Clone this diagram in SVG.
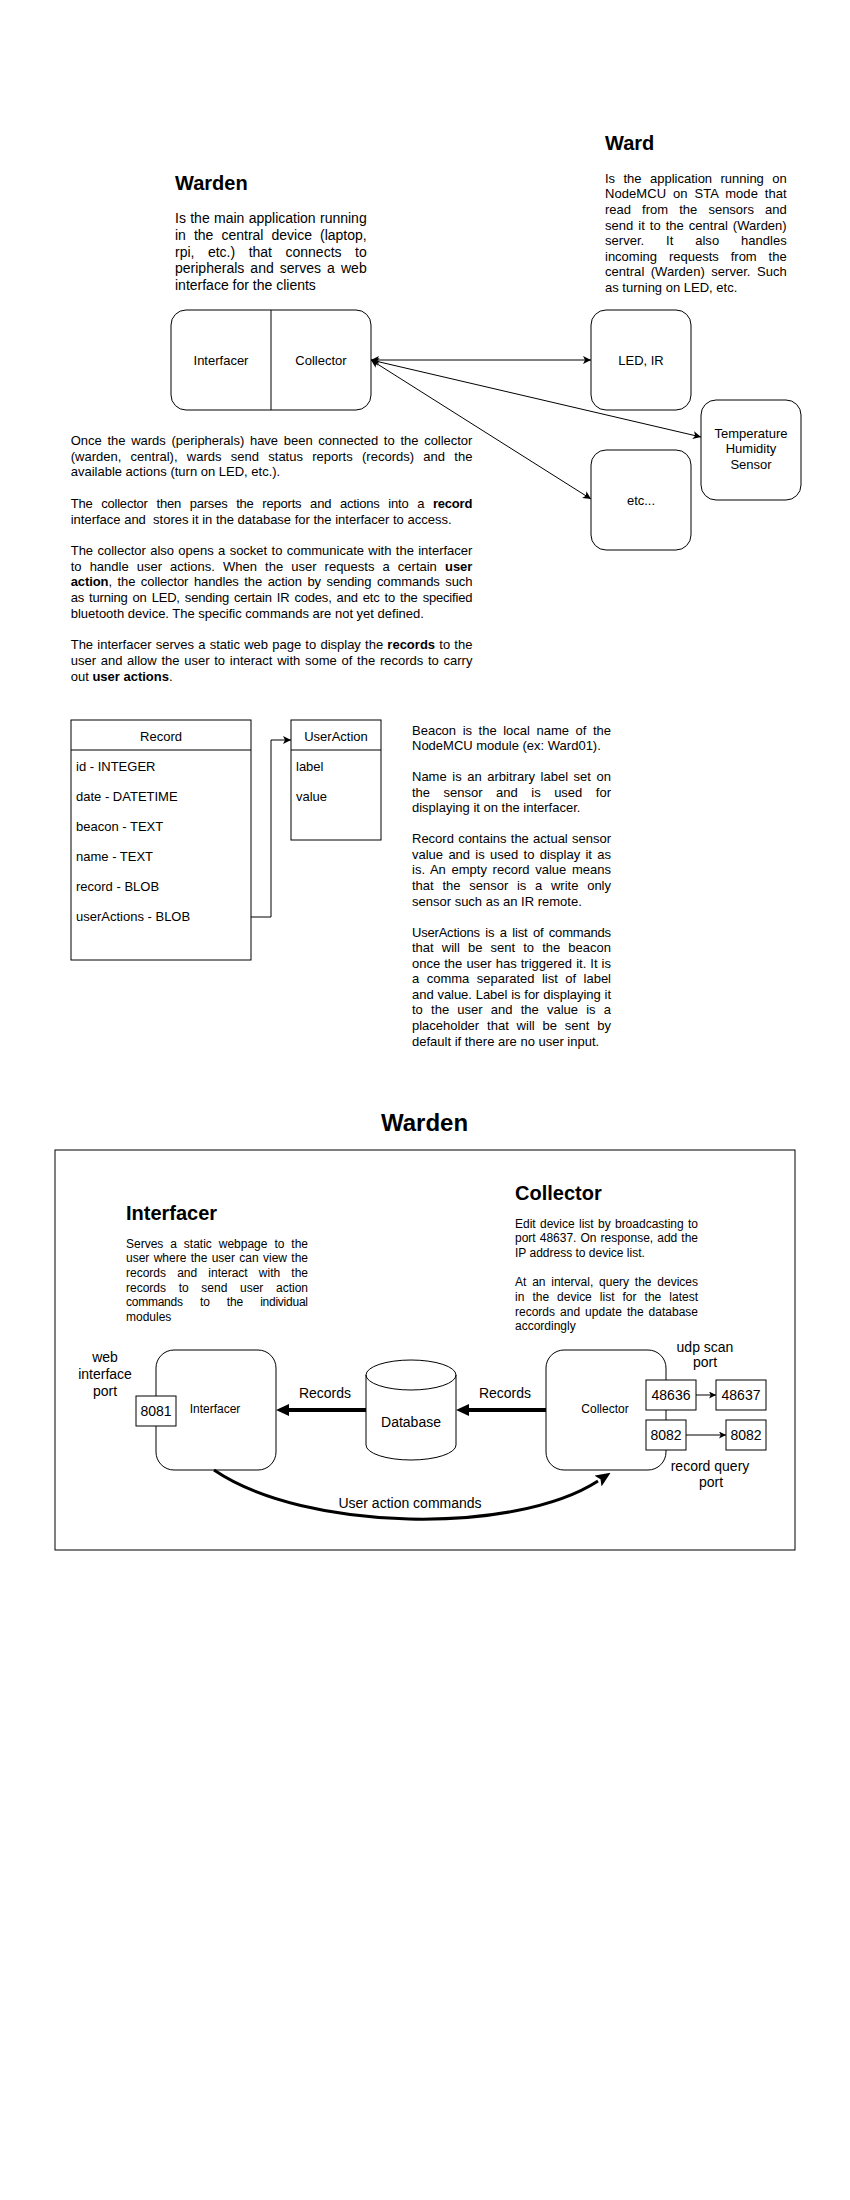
<svg xmlns="http://www.w3.org/2000/svg" width="850" height="2200" viewBox="0 0 850 2200">
<style>
text{font-family:"Liberation Sans",Arial,sans-serif;fill:#000}
.h{font-weight:bold;font-size:20px}
.t14{font-size:14px}
.t13{font-size:13px}
.t12{font-size:12px}
.c{text-anchor:middle}
.b{font-weight:bold}
.box{fill:#fff;stroke:#000;stroke-width:1}
.ln{fill:none;stroke:#000;stroke-width:1}
.thick{fill:none;stroke:#000;stroke-width:4}
</style>
<defs>
<marker id="arr" viewBox="0 0 10 10" refX="10" refY="5" markerWidth="8" markerHeight="8" markerUnits="userSpaceOnUse" orient="auto-start-reverse">
<path d="M0,0 L10,5 L0,10 L2.5,5 Z" fill="#000"/>
</marker>
<marker id="arrs" viewBox="0 0 10 10" refX="10" refY="5" markerWidth="7" markerHeight="7" markerUnits="userSpaceOnUse" orient="auto">
<path d="M0,0 L10,5 L0,10 L2.5,5 Z" fill="#000"/>
</marker>
<marker id="blk" viewBox="0 0 13 12" refX="0" refY="6" markerWidth="13" markerHeight="12" markerUnits="userSpaceOnUse" orient="auto">
<path d="M0,0 L13,6 L0,12 Z" fill="#000"/>
</marker>
<marker id="blk2" viewBox="0 0 15 13" refX="0" refY="6.5" markerWidth="15" markerHeight="13" markerUnits="userSpaceOnUse" orient="auto">
<path d="M0,0 L15,6.5 L0,13 L3,6.5 Z" fill="#000"/>
</marker>
</defs>
<rect width="850" height="2200" fill="#fff"/>

<!-- Top texts -->
<g id="warden-desc">
<text class="h" x="175" y="190">Warden</text>
<text class="t14" x="175" y="223" style="word-spacing:0.45px" textLength="191.7" lengthAdjust="spacing">Is the main application running</text>
<text class="t14" x="175" y="239.8" style="word-spacing:4.15px" textLength="191.7" lengthAdjust="spacing">in the central device (laptop,</text>
<text class="t14" x="175" y="256.6" style="word-spacing:9.6px" textLength="191.7" lengthAdjust="spacing">rpi, etc.) that connects to</text>
<text class="t14" x="175" y="273.4" style="word-spacing:2.2px" textLength="191.7" lengthAdjust="spacing">peripherals and serves a web</text>
<text class="t14" x="175" y="290.2">interface for the clients</text>
</g>
<g id="ward-desc">
<text class="h" x="605" y="150">Ward</text>
<text class="t13" x="605" y="182.8" style="word-spacing:4.78px" textLength="181.7" lengthAdjust="spacing">Is the application running on</text>
<text class="t13" x="605" y="198.4" style="word-spacing:3.15px" textLength="181.7" lengthAdjust="spacing">NodeMCU on STA mode that</text>
<text class="t13" x="605" y="214" style="word-spacing:7.5px" textLength="181.7" lengthAdjust="spacing">read from the sensors and</text>
<text class="t13" x="605" y="229.6" style="word-spacing:1.37px" textLength="181.7" lengthAdjust="spacing">send it to the central (Warden)</text>
<text class="t13" x="605" y="245.2" style="word-spacing:18.2px" textLength="181.7" lengthAdjust="spacing">server. It also handles</text>
<text class="t13" x="605" y="260.8" style="word-spacing:8.3px" textLength="181.7" lengthAdjust="spacing">incoming requests from the</text>
<text class="t13" x="605" y="276.4" style="word-spacing:2.77px" textLength="181.7" lengthAdjust="spacing">central (Warden) server. Such</text>
<text class="t13" x="605" y="292">as turning on LED, etc.</text>
</g>

<!-- Top nodes -->
<g id="warden-node">
<rect class="box" x="171" y="310" width="200" height="100" rx="15" ry="15"/>
<line class="ln" x1="271" y1="310" x2="271" y2="410"/>
<text class="t13 c" x="221" y="364.5">Interfacer</text>
<text class="t13 c" x="321" y="364.5">Collector</text>
</g>
<g id="led-ir">
<rect class="box" x="591" y="310" width="100" height="100" rx="15" ry="15"/>
<text class="t13 c" x="641" y="364.5">LED, IR</text>
</g>
<g id="temp-sensor">
<rect class="box" x="701" y="400" width="100" height="100" rx="15" ry="15"/>
<text class="t13 c" x="751" y="437.8">Temperature</text>
<text class="t13 c" x="751" y="453.4">Humidity</text>
<text class="t13 c" x="751" y="469">Sensor</text>
</g>
<g id="etc">
<rect class="box" x="591" y="450" width="100" height="100" rx="15" ry="15"/>
<text class="t13 c" x="641" y="504.5">etc...</text>
</g>

<!-- Explanation paragraph -->
<g id="explanation">
<text class="t13" x="70.7" y="445" style="word-spacing:2.14px" textLength="401.7" lengthAdjust="spacing">Once the wards (peripherals) have been connected to the collector</text>
<text class="t13" x="70.7" y="460.7" style="word-spacing:5.69px" textLength="401.7" lengthAdjust="spacing">(warden, central), wards send status reports (records) and the</text>
<text class="t13" x="70.7" y="476.4">available actions (turn on LED, etc.).</text>
<text class="t13" x="70.7" y="507.8" style="word-spacing:5.34px" textLength="401.7" lengthAdjust="spacing">The collector then parses the reports and actions into a <tspan class="b">record</tspan></text>
<text class="t13" x="70.7" y="523.5" xml:space="preserve">interface and  stores it in the database for the interfacer to access.</text>
<text class="t13" x="70.7" y="554.9" style="word-spacing:0.72px" textLength="401.7" lengthAdjust="spacing">The collector also opens a socket to communicate with the interfacer</text>
<text class="t13" x="70.7" y="570.6" style="word-spacing:4.47px" textLength="401.7" lengthAdjust="spacing">to handle user actions. When the user requests a certain <tspan class="b">user</tspan></text>
<text class="t13" x="70.7" y="586.3" style="word-spacing:2.08px" textLength="401.7" lengthAdjust="spacing"><tspan class="b">action</tspan>, the collector handles the action by sending commands such</text>
<text class="t13" x="70.7" y="602" style="word-spacing:1.62px" textLength="401.7" lengthAdjust="spacing">as turning on LED, sending certain IR codes, and etc to the specified</text>
<text class="t13" x="70.7" y="617.7">bluetooth device. The specific commands are not yet defined.</text>
<text class="t13" x="70.7" y="649.1" style="word-spacing:0.6px" textLength="401.7" lengthAdjust="spacing">The interfacer serves a static web page to display the <tspan class="b">records</tspan> to the</text>
<text class="t13" x="70.7" y="664.8" style="word-spacing:1.11px" textLength="401.7" lengthAdjust="spacing">user and allow the user to interact with some of the records to carry</text>
<text class="t13" x="70.7" y="680.5">out <tspan class="b">user actions</tspan>.</text>
</g>

<!-- Record table -->
<g id="record">
<rect class="box" x="71" y="720" width="180" height="240"/>
<line class="ln" x1="71" y1="750" x2="251" y2="750"/>
<text class="t13 c" x="161" y="740.5">Record</text>
<text class="t13" x="76" y="771">id - INTEGER</text>
<text class="t13" x="76" y="801">date - DATETIME</text>
<text class="t13" x="76" y="831">beacon - TEXT</text>
<text class="t13" x="76" y="861">name - TEXT</text>
<text class="t13" x="76" y="891">record - BLOB</text>
<text class="t13" x="76" y="921">userActions - BLOB</text>
</g>
<g id="useraction">
<rect class="box" x="291" y="720" width="90" height="120"/>
<line class="ln" x1="291" y1="750" x2="381" y2="750"/>
<text class="t13 c" x="336" y="740.5">UserAction</text>
<text class="t13" x="296" y="771">label</text>
<text class="t13" x="296" y="801">value</text>
</g>

<!-- Field description -->
<g id="field-desc">
<text class="t13" x="412" y="734.5" style="word-spacing:2.93px" textLength="199" lengthAdjust="spacing">Beacon is the local name of the</text>
<text class="t13" x="412" y="750.05">NodeMCU module (ex: Ward01).</text>
<text class="t13" x="412" y="781.15" style="word-spacing:1.98px" textLength="199" lengthAdjust="spacing">Name is an arbitrary label set on</text>
<text class="t13" x="412" y="796.7" style="word-spacing:9.88px" textLength="199" lengthAdjust="spacing">the sensor and is used for</text>
<text class="t13" x="412" y="812.25">displaying it on the interfacer.</text>
<text class="t13" x="412" y="843.35" style="word-spacing:0.63px" textLength="199" lengthAdjust="spacing">Record contains the actual sensor</text>
<text class="t13" x="412" y="858.9" style="word-spacing:1.7px" textLength="199" lengthAdjust="spacing">value and is used to display it as</text>
<text class="t13" x="412" y="874.45" style="word-spacing:1.94px" textLength="199" lengthAdjust="spacing">is. An empty record value means</text>
<text class="t13" x="412" y="890" style="word-spacing:5.1px" textLength="199" lengthAdjust="spacing">that the sensor is a write only</text>
<text class="t13" x="412" y="905.55">sensor such as an IR remote.</text>
<text class="t13" x="412" y="936.65" style="word-spacing:2.08px" textLength="199" lengthAdjust="spacing">UserActions is a list of commands</text>
<text class="t13" x="412" y="952.2" style="word-spacing:4.5px" textLength="199" lengthAdjust="spacing">that will be sent to the beacon</text>
<text class="t13" x="412" y="967.75" style="word-spacing:0.46px" textLength="199" lengthAdjust="spacing">once the user has triggered it. It is</text>
<text class="t13" x="412" y="983.3" style="word-spacing:3.82px" textLength="199" lengthAdjust="spacing">a comma separated list of label</text>
<text class="t13" x="412" y="998.85" style="word-spacing:0.27px" textLength="199" lengthAdjust="spacing">and value. Label is for displaying it</text>
<text class="t13" x="412" y="1014.4" style="word-spacing:4.58px" textLength="199" lengthAdjust="spacing">to the user and the value is a</text>
<text class="t13" x="412" y="1029.95" style="word-spacing:4.26px" textLength="199" lengthAdjust="spacing">placeholder that will be sent by</text>
<text class="t13" x="412" y="1045.5">default if there are no user input.</text>
</g>

<!-- Bottom section -->
<g id="warden-panel">
<text class="b c" style="font-size:24px" x="424.5" y="1130.7">Warden</text>
<rect class="box" x="55" y="1150" width="740" height="400"/>
</g>
<g id="interfacer-desc">
<text class="h" x="126" y="1220">Interfacer</text>
<text class="t12" x="126" y="1247.5" style="word-spacing:3.58px" textLength="182" lengthAdjust="spacing">Serves a static webpage to the</text>
<text class="t12" x="126" y="1262.2" style="word-spacing:0.98px" textLength="182" lengthAdjust="spacing">user where the user can view the</text>
<text class="t12" x="126" y="1276.9" style="word-spacing:7.82px" textLength="182" lengthAdjust="spacing">records and interact with the</text>
<text class="t12" x="126" y="1291.6" style="word-spacing:9.3px" textLength="182" lengthAdjust="spacing">records to send user action</text>
<text class="t12" x="126" y="1306.3" style="word-spacing:14.2px" textLength="182" lengthAdjust="spacing">commands to the individual</text>
<text class="t12" x="126" y="1321">modules</text>
</g>
<g id="collector-desc">
<text class="h" x="515" y="1200">Collector</text>
<text class="t12" x="515" y="1227.5" style="word-spacing:0.98px" textLength="183" lengthAdjust="spacing">Edit device list by broadcasting to</text>
<text class="t12" x="515" y="1242.2" style="word-spacing:0.72px" textLength="183" lengthAdjust="spacing">port 48637. On response, add the</text>
<text class="t12" x="515" y="1256.9">IP address to device list.</text>
<text class="t12" x="515" y="1286.3" style="word-spacing:2.46px" textLength="183" lengthAdjust="spacing">At an interval, query the devices</text>
<text class="t12" x="515" y="1301" style="word-spacing:4.7px" textLength="183" lengthAdjust="spacing">in the device list for the latest</text>
<text class="t12" x="515" y="1315.7" style="word-spacing:1.72px" textLength="183" lengthAdjust="spacing">records and update the database</text>
<text class="t12" x="515" y="1330.4">accordingly</text>
</g>

<g id="interfacer-node">
<rect class="box" x="156" y="1350" width="120" height="120" rx="18" ry="18"/>
<text class="t12 c" x="215" y="1413">Interfacer</text>
</g>
<g id="port-8081">
<rect class="box" x="136" y="1396" width="40" height="30"/>
<text class="t14 c" x="156" y="1416">8081</text>
</g>
<g id="web-port-label">
<text class="t14 c" x="105" y="1362.3">web</text>
<text class="t14 c" x="105" y="1379.1">interface</text>
<text class="t14 c" x="105" y="1395.9">port</text>
</g>
<g id="database">
<path class="box" d="M366,1375 A45,15 0 0,1 456,1375 V1445 A45,15 0 0,1 366,1445 Z"/>
<path class="ln" d="M366,1375 A45,15 0 0,0 456,1375"/>
<text class="t14 c" x="411" y="1427">Database</text>
</g>
<g id="collector-node">
<rect class="box" x="546" y="1350" width="120" height="120" rx="18" ry="18"/>
<text class="t12 c" x="605" y="1413">Collector</text>
</g>
<g id="port-48636">
<rect class="box" x="646" y="1380" width="50" height="30"/>
<text class="t14 c" x="671" y="1400">48636</text>
</g>
<g id="port-48637">
<rect class="box" x="716" y="1380" width="50" height="30"/>
<text class="t14 c" x="741" y="1400">48637</text>
</g>
<g id="port-8082a">
<rect class="box" x="646" y="1420" width="40" height="30"/>
<text class="t14 c" x="666" y="1440">8082</text>
</g>
<g id="port-8082b">
<rect class="box" x="726" y="1420" width="40" height="30"/>
<text class="t14 c" x="746" y="1440">8082</text>
</g>
<g id="udp-label">
<text class="t14 c" x="705" y="1351.7">udp scan</text>
<text class="t14 c" x="705" y="1367.3">port</text>
</g>
<g id="query-label">
<text class="t14 c" x="710" y="1471">record query</text>
<text class="t14 c" x="711" y="1486.6">port</text>
</g>

<!-- Connectors -->
<g id="connectors">
<path class="ln" d="M371,360 L591,360" marker-start="url(#arr)" marker-end="url(#arr)"/>
<path class="ln" d="M371,360 L701,437" marker-start="url(#arr)" marker-end="url(#arr)"/>
<path class="ln" d="M371,360 L591,499" marker-start="url(#arr)" marker-end="url(#arr)"/>
<path class="ln" d="M251,917 H271 V740 H291" marker-end="url(#arr)"/>
<path class="thick" d="M366,1410 L289,1410" marker-end="url(#blk)"/>
<path class="thick" d="M546,1410 L469,1410" marker-end="url(#blk)"/>
<text class="t14 c" x="325" y="1398.3">Records</text>
<text class="t14 c" x="505" y="1398.3">Records</text>
<path class="ln" d="M696,1395 L716,1395" marker-end="url(#arrs)"/>
<path class="ln" d="M686,1435 L726,1435" marker-end="url(#arrs)"/>
<path fill="none" stroke="#000" stroke-width="3" d="M214,1470 C305,1532 515,1535 598,1481" marker-end="url(#blk2)"/>
<text class="t14 c" x="410" y="1508.3">User action commands</text>
</g>
</svg>
